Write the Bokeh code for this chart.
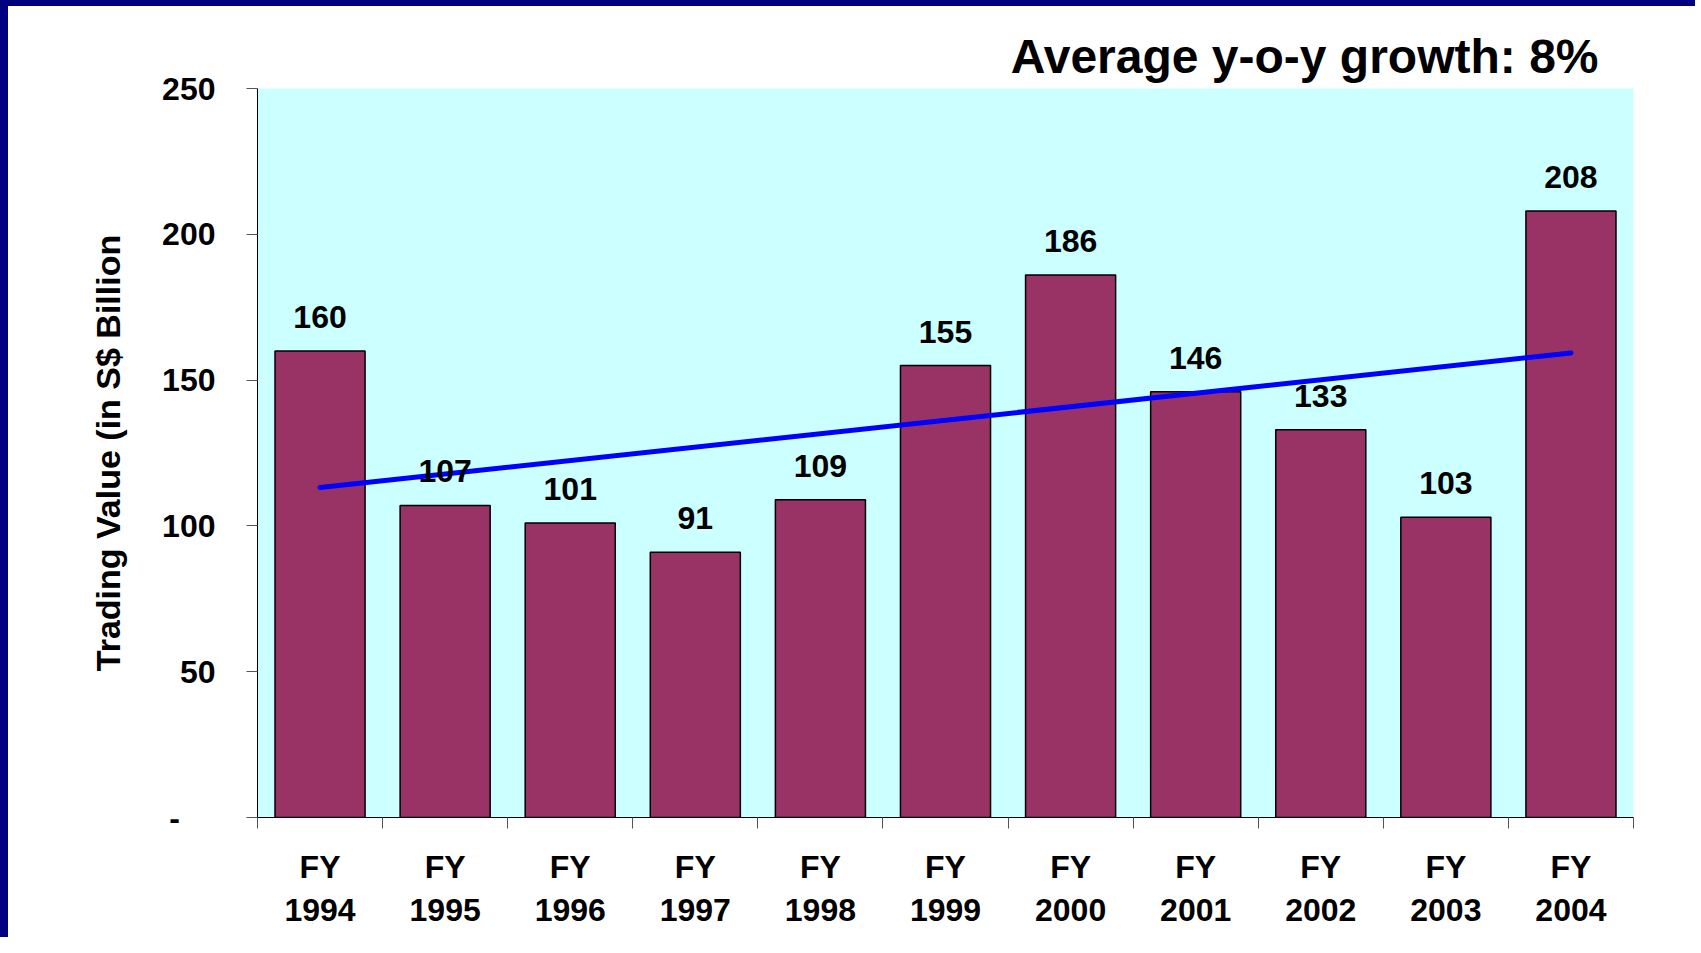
from bokeh.plotting import figure
from bokeh.models import Range1d, FixedTicker
from bokeh.embed import file_html
from bokeh.resources import INLINE
from bokeh.core.properties import value

# ---- data ----
years = ["1994", "1995", "1996", "1997", "1998", "1999", "2000", "2001", "2002", "2003", "2004"]
trading_value = [160, 107, 101, 91, 109, 155, 186, 146, 133, 103, 208]
trend_ends = [113.2, 159.3]          # trend line at FY1994 and FY2004
y_ticks = [0, 50, 100, 150, 200, 250]
y_tick_labels = ["-\u00a0\u00a0\u00a0\u00a0", "50", "100", "150", "200", "250"]
title_text = "Average y-o-y growth: 8%"
y_label = "Trading Value (in S$ Billion"

FONT = value("Liberation Sans")
idx = list(range(len(years)))

p = figure(
    frame_width=1376, frame_height=729,
    x_range=Range1d(-0.5, len(years) - 0.5), y_range=Range1d(0, 250),
    output_backend="svg", toolbar_location=None,
    min_border_left=249, min_border_top=82, min_border_right=62, min_border_bottom=120,
    background_fill_color="#CCFFFF", border_fill_color="white",
)
p.styles = {"border-top": "6px solid #000080", "border-left": "8px solid #000080"}
p.outline_line_color = None
p.xgrid.visible = False
p.ygrid.visible = False

# title
p.title.text = title_text
p.title.align = "right"
p.title.offset = 35
p.title.standoff = 11
p.title.text_font = "Liberation Sans"
p.title.text_font_size = "48px"
p.title.text_font_style = "bold"
p.title.text_color = "black"

# x axis: labels at centres, ticks at boundaries (minor ticks)
xa = p.xaxis[0]
xa.ticker = FixedTicker(ticks=idx, minor_ticks=[i - 0.5 for i in range(len(years) + 1)])
xa.major_label_overrides = {i: "FY\n" + y for i, y in zip(idx, years)}
xa.major_tick_out = 0
xa.major_tick_in = 0
xa.minor_tick_out = 11
xa.minor_tick_in = 0
xa.minor_tick_line_color = "#555555"
xa.axis_line_color = "black"
xa.major_label_standoff = 20
xa.major_label_text_font = "Liberation Sans"
xa.major_label_text_font_size = "32px"
xa.major_label_text_font_style = "bold"
xa.major_label_text_color = "black"
xa.major_label_text_line_height = 1.2

# y axis
ya = p.yaxis[0]
ya.ticker = FixedTicker(ticks=y_ticks, minor_ticks=[])
ya.major_label_overrides = {t: l for t, l in zip(y_ticks, y_tick_labels)}
ya.major_tick_out = 11
ya.major_tick_in = 0
ya.major_tick_line_color = "#555555"
ya.axis_line_color = "black"
ya.major_label_standoff = 31
ya.major_label_text_font = "Liberation Sans"
ya.major_label_text_font_size = "32px"
ya.major_label_text_font_style = "bold"
ya.major_label_text_color = "black"
ya.axis_label = y_label
ya.axis_label_standoff = 32
ya.axis_label_text_font = "Liberation Sans"
ya.axis_label_text_font_size = "34px"
ya.axis_label_text_font_style = "bold"
ya.axis_label_text_color = "black"

# bars
p.vbar(x=idx, top=trading_value, width=0.72, fill_color="#993366",
       line_color="black", line_width=1.5)

# trend line
p.line(x=[idx[0], idx[-1]], y=trend_ends, line_color="#0000FF", line_width=5,
       line_cap="round")

# value labels
p.text(x=idx, y=trading_value, text=[str(v) for v in trading_value],
       text_align="center", text_baseline="alphabetic", y_offset=-34,
       text_font=FONT, text_font_style="bold", text_font_size="32px",
       text_color="black")

open("out.html", "w").write(file_html(p, INLINE))
